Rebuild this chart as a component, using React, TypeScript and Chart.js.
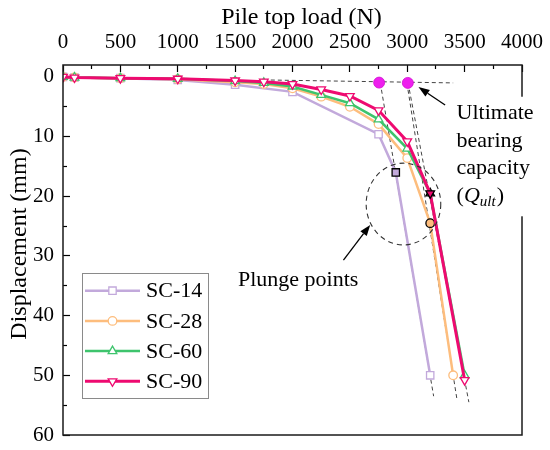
import React, { useEffect, useRef } from "react";
import { Chart, registerables } from "chart.js";
import { drawPoint } from "chart.js/helpers";

Chart.register(...registerables);

const FAMILY = '"Liberation Serif", "Times New Roman", serif';

const seriesNames = ["SC-14", "SC-28", "SC-60", "SC-90"];
const seriesColors = ["#c2a9db", "#fdbd7d", "#3ec46d", "#ee0a70"];
const markerStyles = ["rect", "circle", "triangle", "triangle"];
const markerRotation = [0, 0, 0, 180];
const markerRadius = [5.2, 4.3, 5, 5];
const lineWidths = [2.5, 2.5, 2.5, 3];

// pile top load (N) vs displacement (mm)
const sc14Load = [0, 100, 500, 1000, 1500, 2000, 2750, 2900, 3200];
const sc14Disp = [0, 0.1, 0.2, 0.5, 1.3, 2.5, 9.6, 16.0, 50.0];
const sc28Load = [0, 100, 500, 1000, 1500, 1750, 2000, 2250, 2500, 2750, 3000, 3200, 3400];
const sc28Disp = [0, 0.1, 0.2, 0.4, 0.9, 1.2, 1.9, 3.3, 5.0, 7.9, 13.6, 24.5, 50.0];
const sc60Load = [0, 100, 500, 1000, 1500, 1750, 2000, 2250, 2500, 2750, 3000, 3200, 3500];
const sc60Disp = [0, 0.1, 0.2, 0.3, 0.7, 1.0, 1.6, 3.0, 4.4, 7.1, 12.0, 19.5, 50.0];
const sc90Load = [0, 100, 500, 1000, 1500, 1750, 2000, 2250, 2500, 2750, 3000, 3200, 3500];
const sc90Disp = [0, 0.1, 0.2, 0.3, 0.6, 0.8, 1.2, 2.1, 3.2, 5.6, 10.8, 19.5, 50.8];
// index of the plunge point in each series
const plungeIndex = [7, 11, 11, 11];

// tangent construction lines
const initialTangentLoad = [1750, 3400];
const initialTangentDisp = [0.5, 1.0];
const failureTangentLoad = [[2765, 3230], [2997, 3433], [3007, 3537]];
const failureTangentDisp = [[1.0, 53.5], [1.0, 54.0], [1.0, 54.5]];
const ultimateLoad = [2755, 3005];
const ultimateDisp = [0.95, 1.0];

const xMajorTicks = [0, 500, 1000, 1500, 2000, 2500, 3000, 3500, 4000];
const xMinorTicks = [250, 750, 1250, 1750, 2250, 2750, 3250, 3750];
const yMajorTicks = [0, 10, 20, 30, 40, 50, 60];
const yMinorTicks = [5, 15, 25, 35, 45, 55];

const loads = [sc14Load, sc28Load, sc60Load, sc90Load];
const disps = [sc14Disp, sc28Disp, sc60Disp, sc90Disp];

const pts = (xs: number[], ys: number[]) => xs.map((x, i) => ({ x, y: ys[i] }));

function arrow(ctx: CanvasRenderingContext2D, x1: number, y1: number, x2: number, y2: number) {
  const a = Math.atan2(y2 - y1, x2 - x1);
  const len = 11;
  const half = 4;
  const bx = x2 - len * Math.cos(a);
  const by = y2 - len * Math.sin(a);
  ctx.beginPath();
  ctx.moveTo(x1, y1);
  ctx.lineTo(bx, by);
  ctx.stroke();
  ctx.beginPath();
  ctx.moveTo(x2, y2);
  ctx.lineTo(bx + half * Math.sin(a), by - half * Math.cos(a));
  ctx.lineTo(bx - half * Math.sin(a), by + half * Math.cos(a));
  ctx.closePath();
  ctx.fill();
}

// keep the axes from pushing the plot area inwards
const fixBox = (w: number | null, h: number | null) => (s: any) => {
  if (w !== null) s.width = w;
  if (h !== null) s.height = h;
  s.paddingLeft = 0;
  s.paddingRight = 0;
  s.paddingTop = 0;
  s.paddingBottom = 0;
};

const annotate = {
  id: "annotate",
  afterDraw(chart: any) {
    const { ctx, chartArea } = chart;
    const xs = chart.scales.x;
    const ys = chart.scales.y;
    const px = (v: number) => xs.getPixelForValue(v);
    const py = (v: number) => ys.getPixelForValue(v);
    ctx.save();

    // frame
    ctx.strokeStyle = "#1a1a1a";
    ctx.lineWidth = 1.5;
    ctx.strokeRect(chartArea.left, chartArea.top, chartArea.right - chartArea.left, chartArea.bottom - chartArea.top);

    // dashed circle round the plunge points
    ctx.setLineDash([5, 4]);
    ctx.lineWidth = 1.1;
    ctx.strokeStyle = "#333";
    ctx.beginPath();
    const cx = px(2967);
    const cy = py(21.3);
    ctx.ellipse(cx, cy, px(2967 + 325) - cx, py(21.3 + 6.85) - cy, 0, 0, Math.PI * 2);
    ctx.stroke();
    ctx.setLineDash([]);

    // arrows
    ctx.fillStyle = "#000";
    ctx.strokeStyle = "#000";
    ctx.lineWidth = 1.3;
    arrow(ctx, px(3330), py(4.7), px(3098), py(1.7));
    arrow(ctx, px(2444), py(30.7), px(2677), py(24.8));

    // ultimate bearing capacity label (white box covers the frame)
    const reg = `22px ${FAMILY}`;
    const ita = `italic 22px ${FAMILY}`;
    const sub = `italic 15px ${FAMILY}`;
    const ux = px(3430);
    const lines = [6.0, 10.8, 15.3, 20.0].map(py);
    ctx.font = reg;
    const w = Math.max(ctx.measureText("Ultimate").width, ctx.measureText("capacity").width);
    ctx.fillStyle = "#fff";
    ctx.fillRect(ux - 4, lines[0] - 16, w + 8, lines[3] - lines[0] + 36);
    ctx.fillStyle = "#000";
    ctx.textBaseline = "middle";
    ctx.textAlign = "left";
    ctx.fillText("Ultimate", ux, lines[0]);
    ctx.fillText("bearing", ux, lines[1]);
    ctx.fillText("capacity", ux, lines[2]);
    let qx = ux;
    ctx.fillText("(", qx, lines[3]);
    qx += ctx.measureText("(").width;
    ctx.font = ita;
    ctx.fillText("Q", qx, lines[3]);
    qx += ctx.measureText("Q").width;
    ctx.font = sub;
    ctx.fillText("ult", qx, lines[3] + 6);
    qx += ctx.measureText("ult").width + 1;
    ctx.font = reg;
    ctx.fillText(")", qx, lines[3]);

    ctx.fillText("Plunge points", px(1525), py(34.1));

    // legend
    const L = chartArea.left + 19;
    const T = chartArea.top + 208;
    ctx.strokeStyle = "#8a8a8a";
    ctx.lineWidth = 1;
    ctx.strokeRect(L + 0.5, T + 0.5, 126, 125);
    seriesNames.forEach((name, i) => {
      const y = T + 17.7 + i * 30.2;
      ctx.strokeStyle = seriesColors[i];
      ctx.lineWidth = lineWidths[i];
      ctx.beginPath();
      ctx.moveTo(L + 3, y);
      ctx.lineTo(L + 58, y);
      ctx.stroke();
      ctx.fillStyle = "#fff";
      ctx.lineWidth = 1.3;
      drawPoint(ctx, { pointStyle: markerStyles[i] as any, rotation: markerRotation[i], radius: markerRadius[i], borderWidth: 1.3 }, L + 30.5, y);
      ctx.fillStyle = "#000";
      ctx.font = reg;
      ctx.fillText(name, L + 64, y + 1);
    });

    ctx.restore();
  },
};

export default function App() {
  const canvasRef = useRef<HTMLCanvasElement>(null);

  useEffect(() => {
    document.body.style.margin = "0";
    if (!canvasRef.current) return;
    const ctx = canvasRef.current.getContext("2d");
    if (!ctx) return;

    const series = seriesNames.map((name, i) => ({
      label: name,
      data: pts(loads[i], disps[i]),
      borderColor: seriesColors[i],
      backgroundColor: seriesColors[i],
      borderWidth: lineWidths[i],
      pointStyle: markerStyles[i],
      pointRotation: markerRotation[i],
      pointRadius: markerRadius[i],
      pointBorderWidth: 1.3,
      pointBackgroundColor: (c: any) => (c.dataIndex === plungeIndex[i] ? seriesColors[i] : "#fff"),
      pointBorderColor: (c: any) => (c.dataIndex === plungeIndex[i] ? "#000" : seriesColors[i]),
      order: 3 - i,
      tension: 0,
    }));

    const dashed = (xv: number[], yv: number[]) => ({
      label: "",
      data: pts(xv, yv),
      borderColor: "#444",
      borderWidth: 1,
      borderDash: [4, 3],
      pointRadius: 0,
      order: 6,
    });

    const tick = { family: FAMILY, size: 21 };
    const plain = (v: any) => String(v);
    const minorGrid = { drawOnChartArea: false, tickLength: -4, tickColor: "#000", tickWidth: 1.2 };
    const majorGrid = { drawOnChartArea: false, tickLength: -7, tickColor: "#000", tickWidth: 1.2 };

    const chart = new Chart(ctx, {
      type: "line",
      data: {
        datasets: [
          ...series,
          dashed(initialTangentLoad, initialTangentDisp),
          ...failureTangentLoad.map((l, k) => dashed(l, failureTangentDisp[k])),
          {
            label: "",
            data: pts(ultimateLoad, ultimateDisp),
            showLine: false,
            pointRadius: 5.5,
            pointBackgroundColor: "#ee1fee",
            pointBorderColor: "#d010d0",
            pointBorderWidth: 0.8,
            order: -1,
          } as any,
        ],
      },
      options: {
        responsive: true,
        maintainAspectRatio: false,
        animation: false,
        events: [],
        layout: { padding: { left: 0, top: 0, right: 28, bottom: 15 } },
        plugins: { legend: { display: false }, tooltip: { enabled: false } },
        scales: {
          x: {
            type: "linear",
            position: "top",
            min: 0,
            max: 4000,
            weight: 1,
            afterBuildTicks: (s: any) => { s.ticks = xMajorTicks.map((value) => ({ value })); },
            afterFit: fixBox(null, 65),
            ticks: { font: tick, color: "#000", padding: 17, autoSkip: false, maxRotation: 0, callback: plain },
            grid: majorGrid,
            border: { display: false },
            title: { display: true, text: "   Pile top load (N)", color: "#000", font: { family: FAMILY, size: 24 }, padding: { top: 3, bottom: 0 } },
          },
          xMinor: {
            type: "linear",
            position: "top",
            min: 0,
            max: 4000,
            weight: 0,
            afterBuildTicks: (s: any) => { s.ticks = xMinorTicks.map((value) => ({ value })); },
            afterFit: fixBox(null, 0),
            ticks: { display: false },
            grid: minorGrid,
            border: { display: false },
          },
          y: {
            type: "linear",
            position: "left",
            min: -2,
            max: 60,
            reverse: true,
            weight: 1,
            afterBuildTicks: (s: any) => { s.ticks = yMajorTicks.map((value) => ({ value })); },
            afterFit: fixBox(63, null),
            ticks: { font: tick, color: "#000", padding: 16, autoSkip: false, callback: plain },
            grid: majorGrid,
            border: { display: false },
            title: { display: true, text: "  Displacement (mm)", color: "#000", font: { family: FAMILY, size: 24 }, padding: { top: 5, bottom: 0 } },
          },
          yMinor: {
            type: "linear",
            position: "left",
            min: -2,
            max: 60,
            reverse: true,
            weight: 0,
            afterBuildTicks: (s: any) => { s.ticks = yMinorTicks.map((value) => ({ value })); },
            afterFit: fixBox(0, null),
            ticks: { display: false },
            grid: minorGrid,
            border: { display: false },
          },
        },
      } as any,
      plugins: [annotate],
    });

    return () => {
      chart.destroy();
    };
  }, []);

  return (
    <div style={{ width: 550, height: 450, position: "relative" }}>
      <canvas ref={canvasRef} />
    </div>
  );
}
